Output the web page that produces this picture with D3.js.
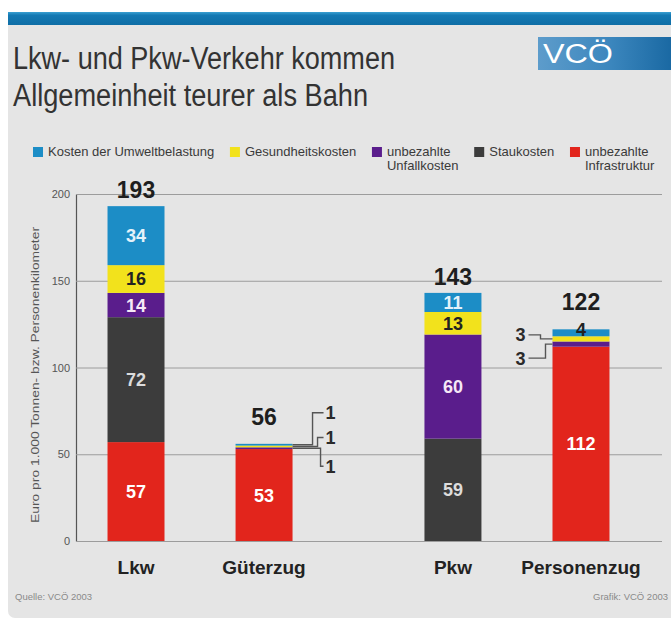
<!DOCTYPE html>
<html>
<head>
<meta charset="utf-8">
<script src="https://cdn.jsdelivr.net/npm/d3@7"></script>
<style>
body { margin: 0; background: #fff; }
svg text { font-family: "Liberation Sans", Arial, sans-serif; }
</style>
</head>
<body>
<div id="chart"></div>
<script>
// categories (left to right) and the sector each one belongs to
var categories = ["Lkw", "Güterzug", "Pkw", "Personenzug"];
var sectors = ["Güterverkehr", "Güterverkehr", "Personenverkehr", "Personenverkehr"];

// cost series, stacked bottom to top
var costKeys = ["infrastruktur", "stau", "unfall", "gesundheit", "umwelt"];
var infrastruktur = [57, 53, 0, 112];
var stau = [72, 0, 59, 0];
var unfall = [14, 1, 60, 3];
var gesundheit = [16, 1, 13, 3];
var umwelt = [34, 1, 11, 4];

// legend order and labels
var legendKeys = ["umwelt", "gesundheit", "unfall", "stau", "infrastruktur"];
var legendLabels = [["Kosten der Umweltbelastung"], ["Gesundheitskosten"], ["unbezahlte", "Unfallkosten"], ["Staukosten"], ["unbezahlte", "Infrastruktur"]];

var yTicks = [0, 50, 100, 150, 200];

var colors = {
    umwelt: "#1c8dc6",
    gesundheit: "#f2e21c",
    unfall: "#5a1d8c",
    stau: "#3c3c3c",
    infrastruktur: "#e2251c"
};
var labelColors = {
    umwelt: "#e4f2fa",
    gesundheit: "#222",
    unfall: "#f6e8f6",
    stau: "#dcdcdc",
    infrastruktur: "#fff"
};

// small segments that get a leader line instead of an inside label
var callouts = {
    "Güterzug": { side: "right", keys: ["unfall", "gesundheit", "umwelt"], dy: [18, -9, -32], elbow: [28, 25, 20] },
    "Personenzug": { side: "left", keys: ["unfall", "gesundheit"], dy: [14, -4], elbow: [7, 12] }
};

var series = { infrastruktur: infrastruktur, stau: stau, unfall: unfall, gesundheit: gesundheit, umwelt: umwelt };

var width = 671, height = 621;

var svg = d3.select("#chart").append("svg")
    .attr("width", width)
    .attr("height", height);

// panel + top band
svg.append("rect")
    .attr("x", 8).attr("y", 12)
    .attr("width", width).attr("height", 606)
    .attr("rx", 7)
    .attr("fill", "#e5e5e5");

var bandGrad = svg.append("defs").append("linearGradient")
    .attr("id", "band").attr("x1", 0).attr("y1", 0).attr("x2", 0).attr("y2", 1);
bandGrad.append("stop").attr("offset", "0%").attr("stop-color", "#3aa0d2");
bandGrad.append("stop").attr("offset", "25%").attr("stop-color", "#1479b3");
bandGrad.append("stop").attr("offset", "100%").attr("stop-color", "#0f6ea6");

svg.append("rect")
    .attr("x", 8).attr("y", 12)
    .attr("width", width).attr("height", 13)
    .attr("fill", "url(#band)");

// title
var titleLines = ["Lkw- und Pkw-Verkehr kommen", "Allgemeinheit teurer als Bahn"];
var titleLen = [382, 355];
svg.selectAll(".title")
    .data(titleLines)
    .enter().append("text")
    .attr("class", "title")
    .attr("x", 13)
    .attr("y", function (d, i) { return 69 + i * 37; })
    .attr("textLength", function (d, i) { return titleLen[i]; })
    .attr("lengthAdjust", "spacingAndGlyphs")
    .style("font-family", "'Liberation Sans Narrow', 'Liberation Sans', Arial, sans-serif")
    .style("font-size", "31px")
    .attr("fill", "#333")
    .text(function (d) { return d; });

// logo
var logoGrad = svg.select("defs").append("linearGradient")
    .attr("id", "logo").attr("x1", 0).attr("y1", 0).attr("x2", 1).attr("y2", 0);
logoGrad.append("stop").attr("offset", "0%").attr("stop-color", "#5d9ccb");
logoGrad.append("stop").attr("offset", "55%").attr("stop-color", "#3b86bd");
logoGrad.append("stop").attr("offset", "100%").attr("stop-color", "#1a69a3");

svg.append("rect")
    .attr("x", 538).attr("y", 37)
    .attr("width", width - 538).attr("height", 33)
    .attr("fill", "url(#logo)");

svg.append("text")
    .attr("x", 543).attr("y", 63)
    .attr("textLength", 70)
    .attr("lengthAdjust", "spacingAndGlyphs")
    .style("font-size", "27px")
    .attr("fill", "#fff")
    .text("VCÖ");

// legend, spread between x=33 and x=655
var legend = svg.append("g").attr("class", "legend");
var items = legend.selectAll(".item")
    .data(legendKeys)
    .enter().append("g")
    .attr("class", "item");

items.append("rect")
    .attr("width", 10).attr("height", 10)
    .attr("y", 147)
    .attr("fill", function (d) { return colors[d]; });

items.append("text")
    .attr("x", 15)
    .style("font-size", "13px")
    .attr("fill", "#3a3a3a")
    .selectAll("tspan")
    .data(function (d, i) { return legendLabels[i]; })
    .enter().append("tspan")
    .attr("x", 15)
    .attr("y", function (d, i) { return 156 + i * 14; })
    .text(function (d) { return d; });

var itemW = [];
items.each(function () { itemW.push(this.getBBox().width); });
var legGap = (655 - 33 - d3.sum(itemW)) / (itemW.length - 1);
var lx = 33;
items.attr("transform", function (d, i) {
    var t = "translate(" + lx + ",0)";
    lx += itemW[i] + legGap;
    return t;
});

// scales
var y = d3.scaleLinear().domain([0, 200]).range([541, 194]);

var outer = d3.scaleBand()
    .domain(["Güterverkehr", "Personenverkehr"])
    .range([75, 642])
    .paddingInner(0.211);

var inner = d3.scaleBand()
    .domain([0, 1])
    .range([0, outer.bandwidth()])
    .paddingInner(0.555)
    .paddingOuter(0.254);

var slot = categories.map(function (c, i) {
    return sectors.slice(0, i).filter(function (s) { return s == sectors[i]; }).length;
});
var xPos = function (i) { return outer(sectors[i]) + inner(slot[i]); };
var bw = inner.bandwidth();

// axis + grid
var axis = svg.append("g")
    .attr("transform", "translate(76,0)")
    .call(d3.axisLeft(y).tickValues(yTicks).tickSize(-586).tickSizeOuter(0).tickPadding(6));
axis.select(".domain").attr("stroke", "#555").attr("stroke-width", 1.2);
axis.selectAll(".tick line").attr("stroke", "#9c9c9c");
axis.selectAll(".tick text")
    .attr("fill", "#555")
    .style("font-size", "11px");

svg.append("text")
    .attr("transform", "translate(39,375) rotate(-90)")
    .attr("text-anchor", "middle")
    .attr("textLength", 296)
    .attr("lengthAdjust", "spacingAndGlyphs")
    .style("font-size", "11px")
    .attr("fill", "#555")
    .text("Euro pro 1.000 Tonnen- bzw. Personenkilometer");

// stacked bars
var rows = categories.map(function (c, i) {
    var r = { cat: c, index: i };
    costKeys.forEach(function (k) { r[k] = series[k][i]; });
    return r;
});
var stacked = d3.stack().keys(costKeys)(rows);

var layer = svg.selectAll(".layer")
    .data(stacked)
    .enter().append("g")
    .attr("class", "layer")
    .attr("fill", function (d) { return colors[d.key]; });

layer.selectAll("rect")
    .data(function (d) { return d.filter(function (p) { return p[1] - p[0] > 0; }); })
    .enter().append("rect")
    .attr("x", function (d) { return xPos(d.data.index); })
    .attr("width", bw)
    .attr("y", function (d) { return y(d[1]); })
    .attr("height", function (d) { return y(d[0]) - y(d[1]); });

// inside labels
stacked.forEach(function (s) {
    svg.selectAll(null)
        .data(s.filter(function (p) { return p[1] - p[0] >= 4; }))
        .enter().append("text")
        .attr("x", function (d) { return xPos(d.data.index) + bw / 2; })
        .attr("y", function (d) {
            var v = d[1] - d[0];
            return (y(d[0]) + y(d[1])) / 2 - (v < 10 ? 3 : 0);
        })
        .attr("dy", "0.36em")
        .attr("text-anchor", "middle")
        .style("font-size", "18px")
        .style("font-weight", "bold")
        .attr("fill", function (d) { return (d[1] - d[0]) < 10 ? "#222" : labelColors[s.key]; })
        .text(function (d) { return d[1] - d[0]; });
});

// callouts for tiny segments
categories.forEach(function (c, i) {
    var co = callouts[c];
    if (!co) return;
    co.keys.forEach(function (k, j) {
        var seg = stacked[costKeys.indexOf(k)][i];
        var ym = (y(seg[0]) + y(seg[1])) / 2;
        var ly = ym + co.dy[j];
        var edge, ex, lxEnd, tx, anchor;
        if (co.side == "right") {
            edge = xPos(i) + bw;
            ex = edge + co.elbow[j];
            lxEnd = edge + 31;
            tx = edge + 33;
            anchor = "start";
        } else {
            edge = xPos(i);
            ex = edge - co.elbow[j];
            lxEnd = edge - 24;
            tx = edge - 27;
            anchor = "end";
        }
        svg.append("path")
            .attr("d", "M" + edge + "," + ym + "H" + ex + "V" + ly + "H" + lxEnd)
            .attr("fill", "none")
            .attr("stroke", "#555")
            .attr("stroke-width", 1.4);
        svg.append("text")
            .attr("x", tx)
            .attr("y", ly)
            .attr("dy", "0.36em")
            .attr("text-anchor", anchor)
            .style("font-size", "18px")
            .style("font-weight", "bold")
            .attr("fill", "#2a2a2a")
            .text(seg[1] - seg[0]);
    });
});

// totals
var totals = categories.map(function (c, i) {
    return d3.sum(costKeys, function (k) { return series[k][i]; });
});
svg.selectAll(".total")
    .data(totals)
    .enter().append("text")
    .attr("class", "total")
    .attr("x", function (d, i) { return xPos(i) + bw / 2; })
    .attr("y", function (d, i) {
        var top = stacked[stacked.length - 1][i];
        return y(d) - ((top[1] - top[0]) < 10 ? 19 : 8);
    })
    .attr("text-anchor", "middle")
    .style("font-size", "23px")
    .style("font-weight", "bold")
    .attr("fill", "#1e1e1e")
    .text(function (d) { return d; });

// category labels
svg.selectAll(".cat")
    .data(categories)
    .enter().append("text")
    .attr("class", "cat")
    .attr("x", function (d, i) { return xPos(i) + bw / 2; })
    .attr("y", 574)
    .attr("text-anchor", "middle")
    .style("font-size", "19px")
    .style("font-weight", "bold")
    .attr("fill", "#222")
    .text(function (d) { return d; });

// footer
svg.append("text")
    .attr("x", 15).attr("y", 600)
    .style("font-size", "9.5px")
    .attr("fill", "#8a8a8a")
    .text("Quelle: VCÖ 2003");
svg.append("text")
    .attr("x", 668).attr("y", 600)
    .attr("text-anchor", "end")
    .style("font-size", "9.5px")
    .attr("fill", "#8a8a8a")
    .text("Grafik: VCÖ 2003");
</script>
</body>
</html>
